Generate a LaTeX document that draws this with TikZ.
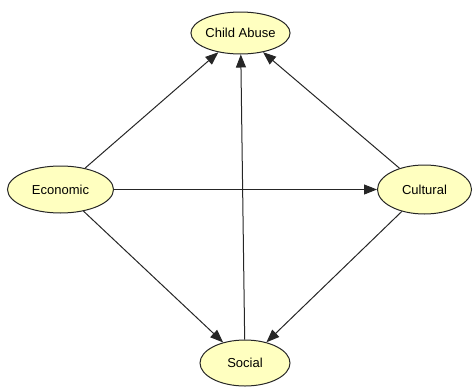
\documentclass[tikz,border=0pt]{standalone}
\usepackage{fontspec}
\setmainfont{Liberation Sans}
\usetikzlibrary{arrows.meta,shapes.geometric}
\definecolor{nodefill}{HTML}{FFFFC0}
\begin{document}
\begin{tikzpicture}[x=1pt,y=-1pt,
  ell/.style={draw=black!85, line width=1pt, fill=nodefill, ellipse, inner sep=0pt, font=\fontsize{13}{15}\selectfont},
  arr/.style={draw=black!85, line width=1pt, -{Triangle[length=13pt,width=10pt]}}]
\useasboundingbox (0,0) rectangle (473,388);
\node[ell, minimum width=96pt, minimum height=42pt] (child) at (240.5,33) {Child Abuse};
\node[ell, minimum width=106pt, minimum height=47pt] (econ) at (60.5,189.5) {Economic};
\node[ell, minimum width=94pt, minimum height=49pt] (cult) at (424.5,189.5) {Cultural};
\node[ell, minimum width=90pt, minimum height=46pt] (soc) at (245,363) {Social};
\draw[arr] (econ) -- (child);
\draw[arr] (econ) -- (cult);
\draw[arr] (econ) -- (soc);
\draw[arr] (soc) -- (child);
\draw[arr] (cult) -- (child);
\draw[arr] (cult) -- (soc);
\end{tikzpicture}
\end{document}
